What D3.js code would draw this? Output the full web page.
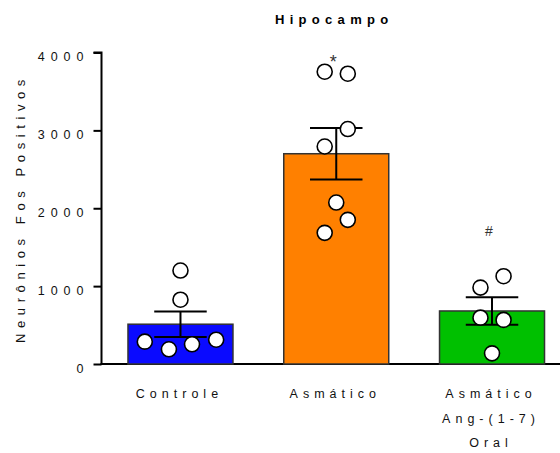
<!DOCTYPE html>
<html>
<head>
<meta charset="utf-8">
<script src="https://cdn.jsdelivr.net/npm/d3@7/dist/d3.min.js"></script>
<style>
  html, body { margin: 0; padding: 0; background: #fff; }
  svg { display: block; font-family: "Liberation Sans", Arial, sans-serif; }
</style>
</head>
<body>
<svg id="chart" width="560" height="453"></svg>
<script>
// Groups and their labels (multi-line)
const groups = ["Controle", "Asmático", "Asmático Ang-(1-7) Oral"];
const groupLines = [["Controle"], ["Asmático"], ["Asmático", "Ang-(1-7)", "Oral"]];
const barColors = ["#0a0aff", "#ff8000", "#00c000"];

// Group means and SEM
const means = [511, 2700, 681];
const sems = [163, 330, 176];

// Individual animals per group
const controleValues = [1200, 826, 287, 189, 253, 312];
const asmaticoValues = [3753, 3728, 3017, 2793, 2073, 1851, 1684];
const angValues = [981, 1127, 595, 566, 137];
// horizontal spread of each dot, as a fraction of the bar width
const controleSpread = [0, 0, -0.34, -0.11, 0.11, 0.34];
const asmaticoSpread = [-0.11, 0.11, 0.11, -0.11, 0, 0.11, -0.11];
const angSpread = [-0.11, 0.11, -0.11, 0.11, 0];

// Significance marks above bars
const marks = ["", "*", "#"];
const markValues = [null, 3850, 1650];

const yTicks = [0, 1000, 2000, 3000, 4000];

const svg = d3.select("#chart");
const margin = { left: 101.5 };

const x = d3.scaleBand()
  .domain(groups)
  .range([101.5, 571])
  .paddingInner(0.326)
  .paddingOuter(0.17);

const y = d3.scaleLinear().domain([0, 4000]).range([364, 52.5]);

// Title
svg.append("text")
  .attr("x", 275)
  .attr("y", 24)
  .attr("font-size", 13)
  .attr("font-weight", "bold")
  .attr("letter-spacing", 5.3)
  .text("Hipocampo");

// Y axis
const yAxis = d3.axisLeft(y).tickValues(yTicks).tickSize(8).tickPadding(0).tickFormat(d3.format("d"));
const gy = svg.append("g").attr("transform", `translate(${margin.left},0)`).call(yAxis);
gy.select(".domain").attr("stroke", "#000").attr("stroke-width", 2)
  .attr("d", `M-8,${y(4000)}H0V${y(0)}`);
gy.selectAll(".tick line").attr("stroke", "#000").attr("stroke-width", 2);
gy.selectAll(".tick text")
  .attr("x", -12)
  .attr("dy", 8)
  .attr("font-size", 12.5)
  .attr("fill", "#111")
  .attr("letter-spacing", 6)
  .attr("font-family", "Liberation Sans, Arial, sans-serif");

// X axis baseline
svg.append("line")
  .attr("x1", margin.left - 1).attr("x2", 560)
  .attr("y1", y(0)).attr("y2", y(0))
  .attr("stroke", "#000").attr("stroke-width", 2);

// Y axis title
svg.append("text")
  .attr("transform", `translate(25,343) rotate(-90)`)
  .attr("font-size", 13)
  .attr("letter-spacing", 5.6)
  .attr("fill", "#111")
  .text("Neurônios Fos Positivos");

// Bars
svg.selectAll("rect.bar")
  .data(groups)
  .join("rect")
  .attr("class", "bar")
  .attr("x", d => x(d))
  .attr("width", x.bandwidth())
  .attr("y", (d, i) => y(means[i]))
  .attr("height", (d, i) => y(0) - y(means[i]))
  .attr("fill", (d, i) => barColors[i])
  .attr("stroke", "#333")
  .attr("stroke-width", 1.5);

// Error bars (both directions)
const capW = x.bandwidth() / 2;
groups.forEach((g, i) => {
  const cx = x(g) + x.bandwidth() / 2;
  const eg = svg.append("g").attr("stroke", "#000").attr("stroke-width", 2);
  eg.append("line").attr("x1", cx).attr("x2", cx)
    .attr("y1", y(means[i] - sems[i])).attr("y2", y(means[i] + sems[i]));
  [means[i] + sems[i], means[i] - sems[i]].forEach(v => {
    eg.append("line").attr("x1", cx - capW / 2).attr("x2", cx + capW / 2)
      .attr("y1", y(v)).attr("y2", y(v));
  });
});

// Individual data points
const allValues = [controleValues, asmaticoValues, angValues];
const allSpread = [controleSpread, asmaticoSpread, angSpread];
groups.forEach((g, i) => {
  const cx = x(g) + x.bandwidth() / 2;
  svg.append("g").selectAll("circle")
    .data(allValues[i])
    .join("circle")
    .attr("cx", (d, j) => cx + allSpread[i][j] * x.bandwidth())
    .attr("cy", d => y(d))
    .attr("r", 7.5)
    .attr("fill", "#fff")
    .attr("stroke", "#000")
    .attr("stroke-width", 1.6);
});

// Significance marks
groups.forEach((g, i) => {
  if (!marks[i]) return;
  svg.append("text")
    .attr("x", x(g) + x.bandwidth() / 2 - 3)
    .attr("y", y(markValues[i]) + (marks[i] === "*" ? 4 : 0))
    .attr("text-anchor", "middle")
    .attr("font-size", marks[i] === "*" ? 18 : 14)
    .attr("fill", "#333")
    .text(marks[i]);
});

// Category labels
groups.forEach((g, i) => {
  const cx = x(g) + x.bandwidth() / 2;
  const t = svg.append("text")
    .attr("text-anchor", "middle")
    .attr("font-size", 12.5)
    .attr("letter-spacing", 5)
    .attr("fill", "#111");
  groupLines[i].forEach((line, k) => {
    t.append("tspan")
      .attr("x", cx - 1)
      .attr("y", 398 + k * 24.5)
      .text(line);
  });
});
</script>
</body>
</html>
